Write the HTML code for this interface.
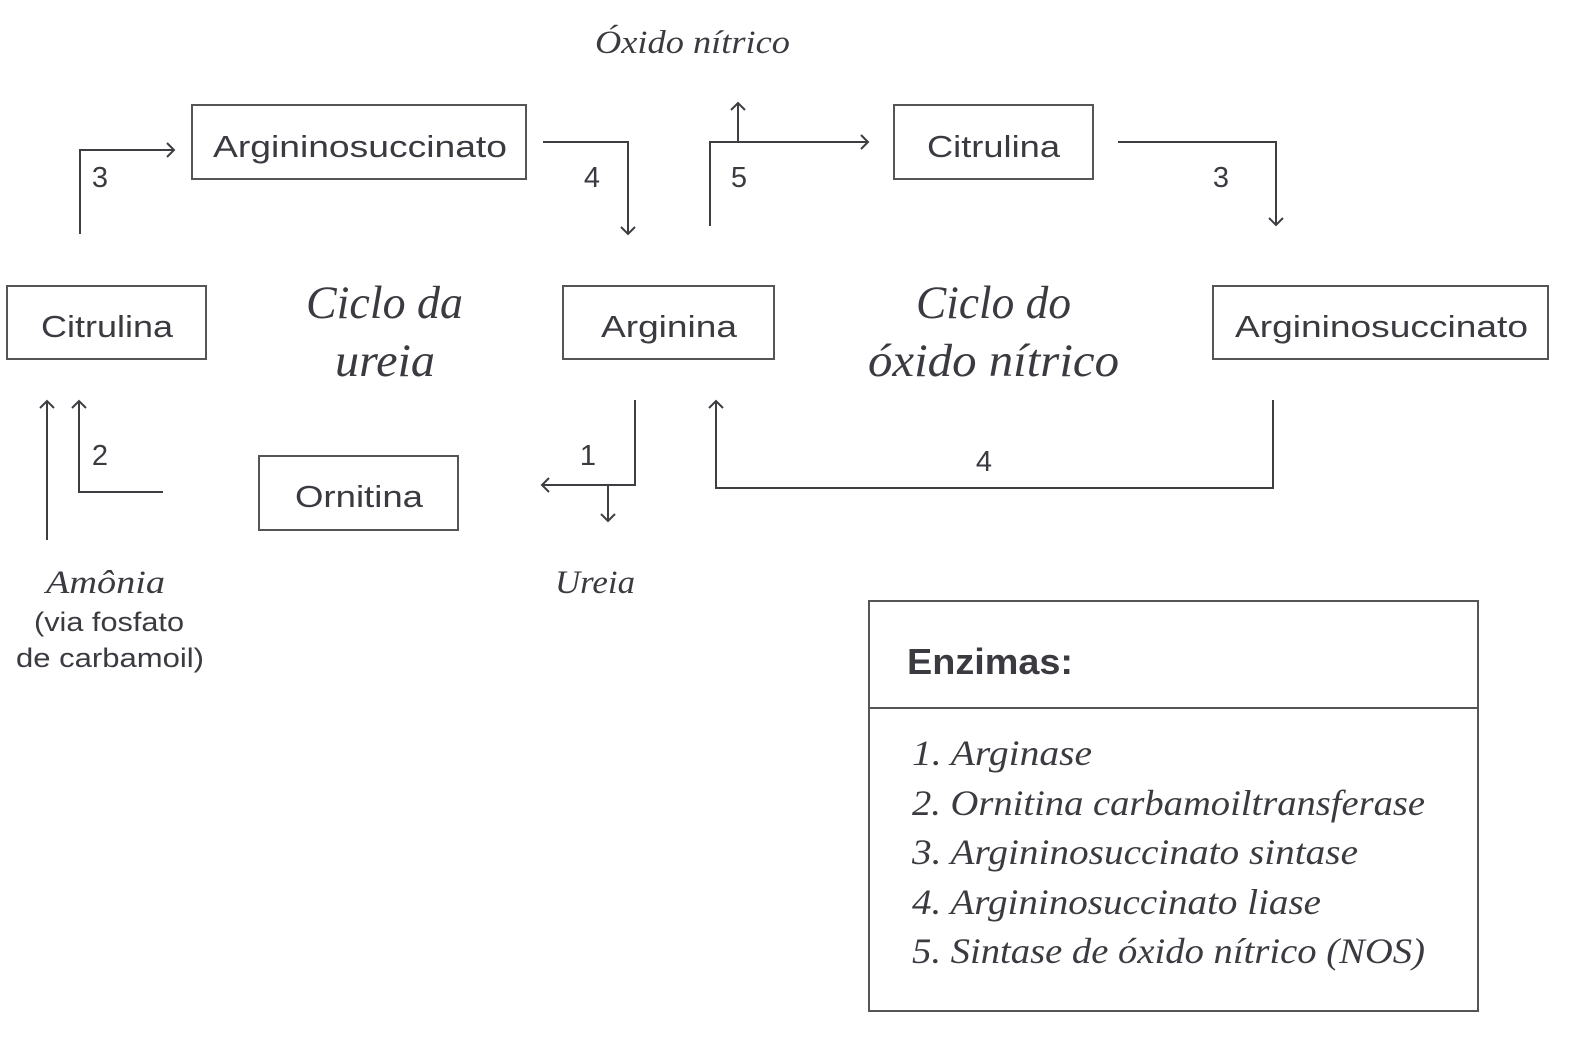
<!DOCTYPE html>
<html><head><meta charset="utf-8"><style>
html,body{margin:0;padding:0;background:#fff;overflow:hidden;width:1586px;height:1038px;}
svg{display:block;}
.s{font-family:"Liberation Sans",sans-serif;fill:#3a3a40;}
.i{font-family:"Liberation Serif",serif;font-style:italic;fill:#3a3a40;}
</style></head><body>
<svg width="1586" height="1038" viewBox="0 0 1586 1038" xmlns="http://www.w3.org/2000/svg">
<g fill="none" stroke="#555" stroke-width="2">
<rect x="192" y="105" width="334" height="74"/>
<rect x="7" y="286" width="199" height="73"/>
<rect x="563" y="286" width="211" height="73"/>
<rect x="894" y="105" width="199" height="74"/>
<rect x="1213" y="286" width="335" height="73"/>
<rect x="259" y="456" width="199" height="74"/>
<rect x="869" y="601" width="609" height="410"/>
<line x1="869" y1="708" x2="1478" y2="708"/>
</g>
<g fill="none" stroke="#3d3d42" stroke-width="2">
<polyline points="80,234 80,150 174,150"/><polyline points="167,143 174,150 167,157"/>
<polyline points="543,142 628,142 628,234"/><polyline points="621,227 628,234 635,227"/>
<polyline points="710,226 710,142 868,142"/><polyline points="861,135 868,142 861,149"/>
<line x1="738" y1="142" x2="738" y2="103"/><polyline points="731,110 738,103 745,110"/>
<polyline points="1118,142 1276,142 1276,225"/><polyline points="1269,218 1276,225 1283,218"/>
<polyline points="1273,400 1273,488 716,488 716,401"/><polyline points="709,408 716,401 723,408"/>
<polyline points="635,400 635,485 542,485"/><polyline points="549,478 542,485 549,492"/>
<line x1="608" y1="485" x2="608" y2="521"/><polyline points="601,514 608,521 615,514"/>
<polyline points="163,492 79,492 79,401"/><polyline points="72,408 79,401 86,408"/>
<line x1="47" y1="540" x2="47" y2="401"/><polyline points="40,408 47,401 54,408"/>
</g>
<g class="s" font-size="31">
<text x="213" y="157" textLength="294" lengthAdjust="spacingAndGlyphs">Argininosuccinato</text>
<text x="41" y="337" textLength="132" lengthAdjust="spacingAndGlyphs">Citrulina</text>
<text x="601" y="337" textLength="136" lengthAdjust="spacingAndGlyphs">Arginina</text>
<text x="927" y="157" textLength="133" lengthAdjust="spacingAndGlyphs">Citrulina</text>
<text x="1235" y="337" textLength="293" lengthAdjust="spacingAndGlyphs">Argininosuccinato</text>
<text x="295" y="507" textLength="128" lengthAdjust="spacingAndGlyphs">Ornitina</text>
</g>
<g class="s" font-size="29" text-anchor="middle">
<text x="100" y="187">3</text><text x="592" y="187">4</text><text x="739" y="187">5</text>
<text x="1221" y="187">3</text><text x="984" y="471">4</text><text x="588" y="465">1</text>
<text x="100" y="465">2</text>
</g>
<g class="s" font-size="27">
<text x="34" y="631" textLength="150" lengthAdjust="spacingAndGlyphs">(via fosfato</text>
<text x="16" y="667" textLength="188" lengthAdjust="spacingAndGlyphs">de carbamoil)</text>
</g>
<g class="i">
<text x="595" y="53" font-size="33" textLength="195" lengthAdjust="spacingAndGlyphs">Óxido nítrico</text>
<text x="306" y="318" font-size="47" textLength="157" lengthAdjust="spacingAndGlyphs">Ciclo da</text>
<text x="335" y="376" font-size="47" textLength="100" lengthAdjust="spacingAndGlyphs">ureia</text>
<text x="916" y="318" font-size="47" textLength="155" lengthAdjust="spacingAndGlyphs">Ciclo do</text>
<text x="868" y="376" font-size="47" textLength="251" lengthAdjust="spacingAndGlyphs">óxido nítrico</text>
<text x="46" y="593" font-size="33" textLength="119" lengthAdjust="spacingAndGlyphs">Amônia</text>
<text x="555" y="593" font-size="33" textLength="80" lengthAdjust="spacingAndGlyphs">Ureia</text>
</g>
<text x="907" y="674" font-family="Liberation Sans,sans-serif" font-weight="bold" font-size="36" fill="#3a3a40" textLength="166" lengthAdjust="spacingAndGlyphs">Enzimas:</text>
<g class="i" font-size="36">
<text x="912" y="765" textLength="180" lengthAdjust="spacingAndGlyphs">1. Arginase</text>
<text x="912" y="815" textLength="513" lengthAdjust="spacingAndGlyphs">2. Ornitina carbamoiltransferase</text>
<text x="912" y="864" textLength="446" lengthAdjust="spacingAndGlyphs">3. Argininosuccinato sintase</text>
<text x="912" y="914" textLength="409" lengthAdjust="spacingAndGlyphs">4. Argininosuccinato liase</text>
<text x="912" y="963" textLength="513" lengthAdjust="spacingAndGlyphs">5. Sintase de óxido nítrico (NOS)</text>
</g>
</svg>
</body></html>
